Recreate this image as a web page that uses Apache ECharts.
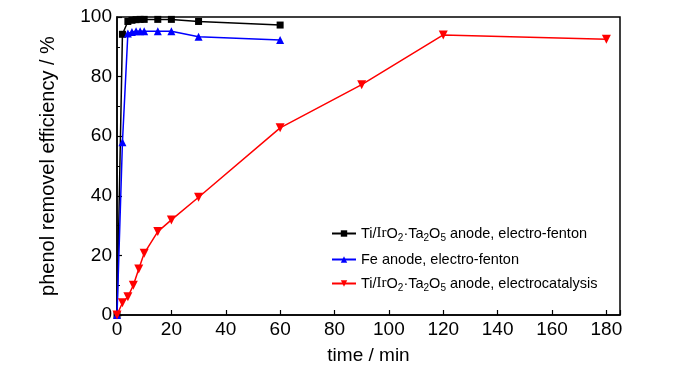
<!DOCTYPE html>
<html><head><meta charset="utf-8">
<script src="https://cdn.jsdelivr.net/npm/echarts@6/dist/echarts.min.js"></script>
<style>html,body{margin:0;padding:0;background:#fff}#c{width:700px;height:374px}</style>
</head><body><div id="c"></div>
<script>
const timeEF = [0, 2, 4, 5.5, 7, 8.5, 10, 15, 20, 30, 60];
const tiEF = [0, 94.2, 98.5, 98.9, 99.1, 99.2, 99.2, 99.2, 99.2, 98.5, 97.3];
const feEF = [0, 58, 94.5, 95, 95.2, 95.2, 95.2, 95.2, 95.2, 93.4, 92.3];
const timeEC = [0, 2, 4, 6, 8, 10, 15, 20, 30, 60, 90, 120, 180];
const tiEC = [0, 4.1, 6.1, 10, 15.4, 20.7, 28, 31.9, 39.5, 62.8, 77.3, 94, 92.5];
const seriesNames = ['Ti/IrO2·Ta2O5 anode, electro-fenton', 'Fe anode, electro-fenton', 'Ti/IrO2·Ta2O5 anode, electrocatalysis'];
const xTicks = [0, 20, 40, 60, 80, 100, 120, 140, 160, 180];

const pair = (xs, ys) => xs.map((x, i) => [x, ys[i]]);
const chart = echarts.init(document.getElementById('c'));
const tickFont = '"Liberation Sans", Arial, sans-serif';
const legendFmt = name => {
  if (name.indexOf('Ti/IrO2') === 0) {
    return '{n|Ti/}{ir|Ir}{n|O}{sub|2}{n|·Ta}{sub|2}{n|O}{sub|5}{n|' + name.replace('Ti/IrO2·Ta2O5', '') + '}';
  }
  return '{n|' + name + '}';
};
chart.setOption({
  animation: false,
  grid: {left: 117, right: 80, top: 17, bottom: 59, show: true, borderColor: '#000', borderWidth: 1.5, backgroundColor: 'transparent'},
  legend: {
    orient: 'vertical', left: 326, top: 221, itemGap: 9, itemWidth: 24, itemHeight: 8,
    data: seriesNames,
    formatter: legendFmt,
    textStyle: {
      color: '#000', fontFamily: 'Liberation Sans', fontSize: 14.5,
      rich: {
        n: {fontFamily: 'Liberation Sans', fontSize: 14.5, color: '#000'},
        ir: {fontFamily: 'Liberation Serif', fontSize: 15, color: '#000'},
        sub: {fontFamily: 'Liberation Sans', fontSize: 10, color: '#000', padding: [9, 0, 0, 0]}
      }
    }
  },
  xAxis: {
    type: 'value', min: 0, max: 185, interval: 20,
    name: 'time / min', nameLocation: 'middle', nameGap: 31,
    nameTextStyle: {fontFamily: 'Liberation Sans', fontSize: 19, color: '#000'},
    axisLine: {lineStyle: {color: '#000', width: 1.5}},
    axisTick: {inside: true, length: 5, lineStyle: {color: '#000', width: 1.2}},
    axisLabel: {fontFamily: tickFont, fontSize: 19, color: '#000', margin: 5,
      formatter: v => xTicks.indexOf(v) >= 0 ? String(v) : ''},
    splitLine: {show: false}
  },
  yAxis: {
    type: 'value', min: 0, max: 100, interval: 20,
    name: 'phenol removel efficiency / %', nameLocation: 'middle', nameGap: 59,
    nameTextStyle: {fontFamily: 'Liberation Sans', fontSize: 20, color: '#000'},
    axisLine: {lineStyle: {color: '#000', width: 1.5}},
    axisTick: {inside: true, length: 5, lineStyle: {color: '#000', width: 1.2}},
    minorTick: {show: true, splitNumber: 2, length: 3, lineStyle: {color: '#000', width: 1}},
    axisLabel: {fontFamily: tickFont, fontSize: 19, color: '#000', margin: 5},
    splitLine: {show: false}
  },
  series: [
    {name: seriesNames[0], type: 'line', data: pair(timeEF, tiEF), symbol: 'rect', symbolSize: 7,
      lineStyle: {color: '#000', width: 1.5}, itemStyle: {color: '#000'}, z: 3},
    {name: seriesNames[1], type: 'line', data: pair(timeEF, feEF), symbol: 'triangle', symbolSize: 8,
      lineStyle: {color: '#0000ff', width: 1.5}, itemStyle: {color: '#0000ff'}, z: 4},
    {name: seriesNames[2], type: 'line', data: pair(timeEC, tiEC), symbol: 'triangle', symbolRotate: 180, symbolSize: 9,
      lineStyle: {color: '#ff0000', width: 1.5}, itemStyle: {color: '#ff0000'}, z: 5}
  ]
});
</script></body></html>
